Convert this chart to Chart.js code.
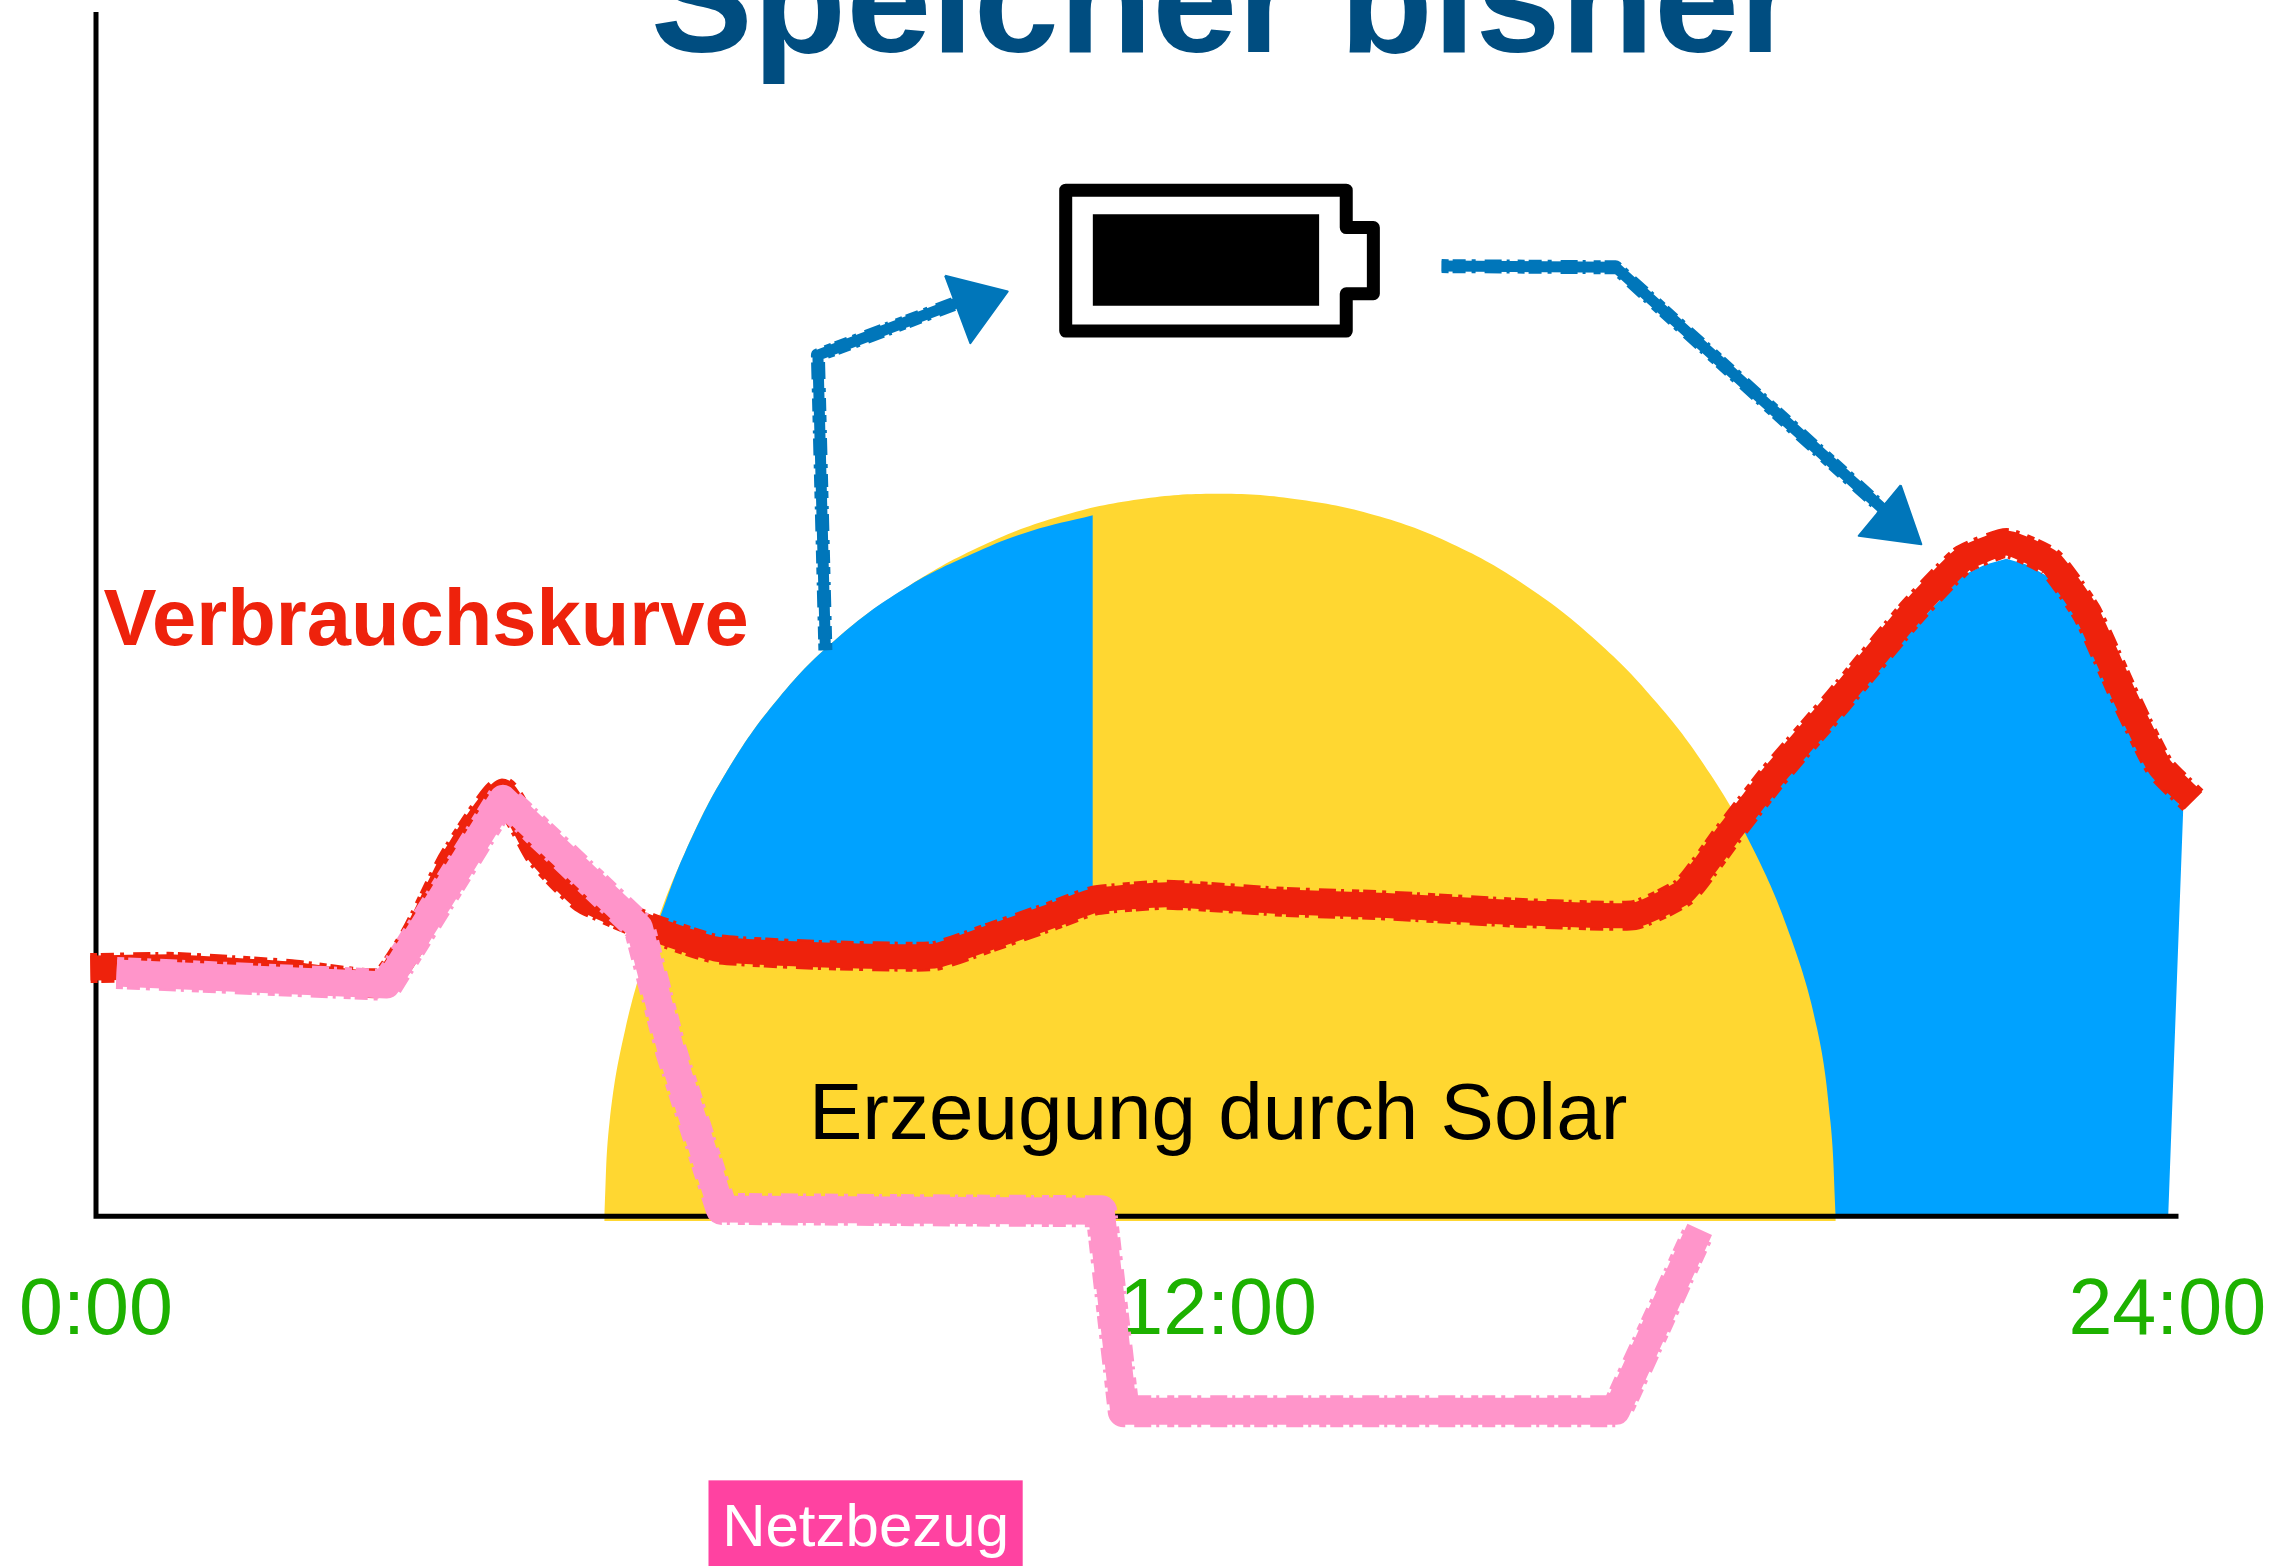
<!DOCTYPE html>
<html>
<head>
<meta charset="utf-8">
<style>
  html, body { margin: 0; padding: 0; background: #fff; overflow: hidden; }
  canvas { display: block; }
</style>
<script src="https://cdn.jsdelivr.net/npm/chart.js@4/dist/chart.umd.min.js"></script>
</head>
<body>
<canvas id="speicherChart" width="2288" height="1566"></canvas>
<script>
const tickHours = [0, 12, 22.15];
const tickLabels = ['0:00', '12:00', '24:00'];

// solar dome
const solarHours = [5.435, 5.492, 5.66, 5.936, 6.294, 6.743, 7.299, 7.959, 8.701, 9.487, 10.311, 11.16, 12.02, 12.88, 13.729, 14.55, 15.326, 16.045, 16.695, 17.266, 17.746, 18.128, 18.405, 18.548, 18.605];
const solarValues = [0, 7.83, 15.53, 22.96, 30.12, 36.9, 43.02, 48.22, 52.38, 55.71, 58.12, 59.54, 60, 59.5, 58.1, 55.65, 52.17, 47.79, 42.6, 36.68, 30.12, 23.05, 15.59, 7.83, 0];

// part of the dome that goes into the battery
const chargeHours = [6.03, 6.294, 6.743, 7.299, 7.959, 8.701, 9.487, 10.0, 10.66];
const chargeValues = [24.8, 30.12, 36.9, 43.02, 48.22, 52.38, 55.4, 56.9, 58.2];

// red consumption curve
const usageHours = [-0.06, 0.84, 2.09, 3.06, 3.42, 3.81, 4.34, 4.74, 5.21, 5.91, 6.62, 7.71, 8.96, 9.58, 10.21, 10.67, 11.45, 12.70, 13.80, 15.20, 16.45, 16.99, 17.46, 17.93, 18.63, 19.41, 19.96, 20.43, 20.90, 21.29, 21.68, 22.07, 22.43];
const usageValues = [20.6, 20.7, 20.1, 19.4, 23.4, 29.5, 35.3, 30.1, 26.4, 24.0, 22.2, 21.7, 21.6, 23.2, 24.9, 26.2, 26.7, 26.1, 25.8, 25.2, 25.0, 27.0, 31.8, 36.5, 42.8, 50.1, 54.5, 55.9, 54.3, 50.1, 43.4, 37.3, 34.5];

// evening part fed from the battery, closed along the axis
const dischargeHours = [17.46, 17.93, 18.63, 19.41, 19.96, 20.2, 20.43, 20.65, 20.90, 21.29, 21.68, 22.07, 22.32, 22.16, 17.46, 17.46];
const dischargeValues = [31.3, 35.6, 41.4, 48.6, 53.2, 54.1, 54.6, 54.1, 53.0, 49.0, 42.6, 36.5, 33.7, 0, 0, 31.3];

// pink grid supply
const gridHours = [0.22, 3.11, 4.35, 5.81, 6.15, 6.69, 10.75, 10.99, 16.26, 17.15];
const gridValues = [20.2, 19.2, 34.7, 24.0, 13.7, 0.6, 0.4, -16.2, -16.2, -1.1];

const arrowInHours = [7.80, 7.72, 9.19];
const arrowInValues = [47.0, 71.5, 75.8];
const arrowInHeadHours = [9.08, 9.75, 9.35, 9.08];
const arrowInHeadValues = [78.1, 76.8, 72.5, 78.1];

const arrowOutHours = [14.39, 16.25, 19.10];
const arrowOutValues = [78.9, 78.8, 58.8];
const arrowOutHeadHours = [19.30, 19.52, 18.85, 19.30];
const arrowOutHeadValues = [60.7, 55.8, 56.5, 60.7];

const batteryHours = [11.8, 13.37, 13.37, 13.66, 13.66, 13.37, 13.37, 10.37, 10.37, 11.8];
const batteryValues = [85.2, 85.2, 82.1, 82.1, 76.6, 76.6, 73.5, 73.5, 85.2, 85.2];
const batteryFillHours = [10.66, 13.08, 13.08, 10.66, 10.66];
const batteryFillValues = [83.2, 83.2, 75.6, 75.6, 83.2];

const axisHours = [0, 0, 22.27];
const axisValues = [100, 0, 0];

const YELLOW = '#FFD731';
const BLUE = '#00A2FF';
const RED = '#EE220C';
const PINK = '#FF95CA';
const ARROW = '#0076BA';
const FONT = '"Liberation Sans", Arial, sans-serif';

function pts(xs, ys) {
  return xs.map((x, i) => ({ x: x, y: ys[i] }));
}

function line(label, xs, ys, color, width, order, extra) {
  return Object.assign({
    label: label,
    data: pts(xs, ys),
    borderColor: color,
    backgroundColor: color,
    borderWidth: width,
    borderJoinStyle: 'round',
    borderCapStyle: 'butt',
    pointRadius: 0,
    fill: false,
    tension: 0,
    clip: false,
    order: order
  }, extra || {});
}

// solid stroke plus a wider broken one on top, gives the crayon edge
function crayon(label, xs, ys, color, width, order, extra) {
  return [
    line(label, xs, ys, color, width, order, extra),
    line(label + ' rand', xs, ys, color, width + Math.max(3, Math.round(width * 0.2)), order, Object.assign({ borderDash: [7, 4, 13, 6, 4, 9, 17, 5, 3, 8] }, extra || {}))
  ];
}

const notesPlugin = {
  id: 'notes',
  afterDatasetsDraw(chart) {
    const c = chart.ctx;
    const x = chart.scales.x;
    const y = chart.scales.y;
    const notes = [
      { text: 'Speicher bisher', h: 12.07, v: 96.7, font: 'bold 153px ' + FONT, color: '#004D80', align: 'center' },
      { text: 'Verbrauchskurve', h: 0.08, v: 47.4, font: 'bold 79.5px ' + FONT, color: RED, align: 'left' },
      { text: 'Erzeugung durch Solar', h: 12.0, v: 6.4, font: '80px ' + FONT, color: '#000', align: 'center' }
    ];
    c.save();
    notes.forEach(n => {
      c.font = n.font;
      c.fillStyle = n.color;
      c.textAlign = n.align;
      c.textBaseline = 'alphabetic';
      c.fillText(n.text, x.getPixelForValue(n.h), y.getPixelForValue(n.v));
    });
    // Netzbezug tag below the axis
    const left = x.getPixelForValue(6.55);
    const right = x.getPixelForValue(9.91);
    const top = y.getPixelForValue(-21.94);
    c.fillStyle = '#FF42A1';
    c.fillRect(left, top, right - left, 90);
    c.font = '60px ' + FONT;
    c.fillStyle = '#fff';
    c.textAlign = 'center';
    c.fillText('Netzbezug', (left + right) / 2, y.getPixelForValue(-27.4));
    c.restore();
  }
};

window.onload = function () {
  const ctx = document.getElementById('speicherChart').getContext('2d');
  new Chart(ctx, {
    type: 'line',
    plugins: [notesPlugin],
    data: {
      datasets: [
        line('Solar', solarHours, solarValues, YELLOW, 0, 20, { fill: { value: -0.4 }, tension: 0.4 }),
        line('Entladen', dischargeHours, dischargeValues, BLUE, 0, 21, { fill: 'shape' }),
        line('Laden', chargeHours, chargeValues, BLUE, 0, 15, { fill: { target: 4 }, tension: 0.4 }),
        line('Achsen', axisHours, axisValues, '#000', 5, 10, { borderJoinStyle: 'miter' }),
        ...crayon('Verbrauch', usageHours, usageValues, RED, 25, 5, { tension: 0.15 }),
        ...crayon('Netzbezug', gridHours, gridValues, PINK, 27, 3),
        ...crayon('Pfeil rein', arrowInHours, arrowInValues, ARROW, 11, 6),
        line('Spitze rein', arrowInHeadHours, arrowInHeadValues, ARROW, 2, 6, { fill: 'shape' }),
        ...crayon('Pfeil raus', arrowOutHours, arrowOutValues, ARROW, 11, 6),
        line('Spitze raus', arrowOutHeadHours, arrowOutHeadValues, ARROW, 2, 6, { fill: 'shape' }),
        line('Batterie', batteryHours, batteryValues, '#000', 13, 7),
        line('Batterie voll', batteryFillHours, batteryFillValues, '#000', 0, 7, { fill: 'shape' })
      ]
    },
    options: {
      responsive: false,
      animation: false,
      events: [],
      layout: { padding: { left: 96, right: 88, top: 12, bottom: 169 } },
      plugins: { legend: { display: false }, tooltip: { enabled: false }, title: { display: false } },
      scales: {
        x: {
          type: 'linear',
          min: 0,
          max: 22.5,
          border: { display: false },
          grid: { display: false, drawTicks: false },
          afterBuildTicks: axis => { axis.ticks = tickHours.map(v => ({ value: v })); },
          // tick labels may stick out, the axis itself has to stay put
          afterFit: axis => { axis.paddingLeft = 0; axis.paddingRight = 0; },
          ticks: {
            autoSkip: false,
            maxRotation: 0,
            padding: 37,
            color: '#1DB100',
            font: { family: FONT, size: 79 },
            callback: (value, index) => tickLabels[index]
          }
        },
        y: {
          min: -1,
          max: 100,
          border: { display: false },
          grid: { display: false, drawTicks: false },
          ticks: { display: false }
        }
      }
    }
  });
};
</script>
</body>
</html>
